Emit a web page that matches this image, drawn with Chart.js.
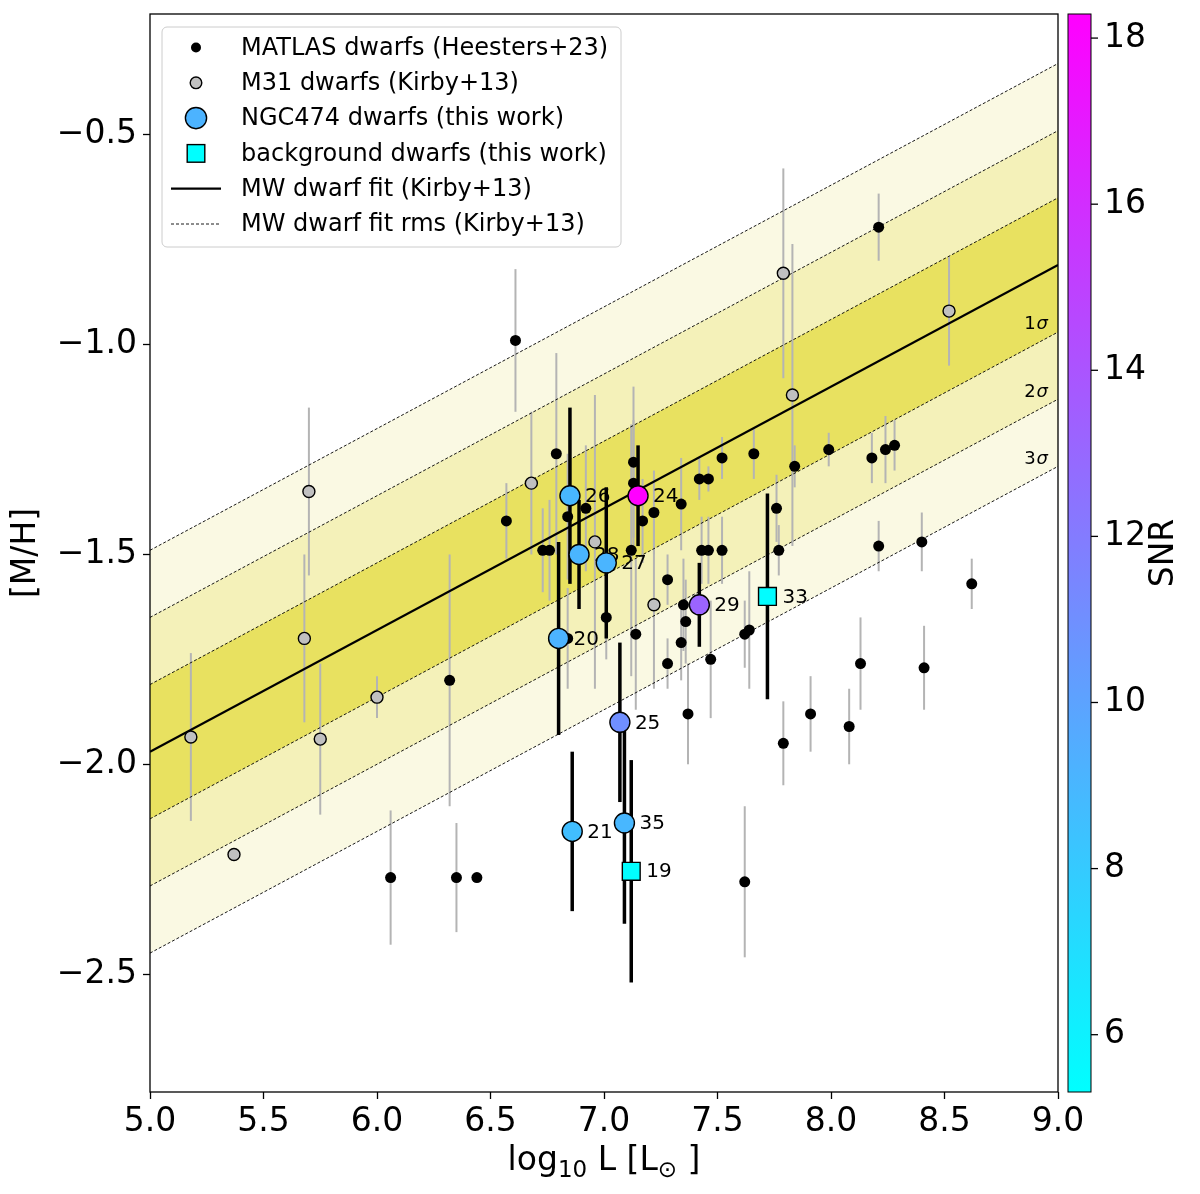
<!DOCTYPE html>
<html lang="en">
<head>
<meta charset="UTF-8">
<title>[M/H] vs luminosity</title>
<script src="https://cdn.jsdelivr.net/npm/chart.js@4.4.1/dist/chart.umd.min.js"></script>
<style>
  html, body { margin: 0; padding: 0; background: #fff; }
  #wrap { position: relative; width: 1200px; height: 1194px; }
</style>
</head>
<body>
<div id="wrap"><canvas id="chart"></canvas></div>
<script>
// MATLAS dwarfs (Heesters+23)
const matlasLogL = [6.61, 6.57, 6.32, 6.06, 6.35, 6.44, 6.73, 6.76, 6.79, 6.84, 6.92, 6.84, 7.01, 7.12,
  7.13, 7.13, 7.14, 7.17, 7.22, 7.28, 7.28, 7.34, 7.34, 7.35, 7.36, 7.37, 7.42, 7.43, 7.46, 7.46,
  7.47, 7.52, 7.52, 7.62, 7.64, 7.62, 7.66, 7.76, 7.77, 7.79, 7.84, 7.91, 7.99, 8.08, 8.13, 8.18,
  8.21, 8.21, 8.24, 8.28, 8.40, 8.41, 8.62];
const matlasMH = [-0.99, -1.42, -1.80, -2.27, -2.27, -2.27, -1.49, -1.49, -1.26, -1.41, -1.39, -1.70, -1.65, -1.49,
  -1.28, -1.33, -1.69, -1.42, -1.40, -1.56, -1.76, -1.38, -1.71, -1.62, -1.66, -1.88, -1.32, -1.49, -1.32, -1.49,
  -1.75, -1.27, -1.49, -1.69, -1.68, -2.28, -1.26, -1.39, -1.49, -1.95, -1.29, -1.88, -1.25, -1.91, -1.76, -1.27,
  -0.72, -1.48, -1.25, -1.24, -1.47, -1.77, -1.57];
const matlasErr = [0.17, 0.09, 0.30, 0.16, 0.13, 0, 0.10, 0.12, 0.24, 0.15, 0.15, 0.12, 0.10, 0.30,
  0.18, 0.15, 0.18, 0.10, 0.10, 0.06, 0.06, 0.11, 0.09, 0.11, 0.10, 0.12, 0.05, 0.08, 0.03, 0.08,
  0.14, 0.05, 0.08, 0.08, 0.14, 0.18, 0.06, 0.08, 0.06, 0.10, 0.05, 0.09, 0.04, 0.09, 0.11, 0.06,
  0.08, 0.06, 0.08, 0.06, 0.07, 0.10, 0.06];

// M31 dwarfs (Kirby+13)
const m31LogL = [5.18, 5.37, 5.68, 5.70, 5.75, 6.00, 6.68, 6.96, 7.22, 7.79, 7.83, 8.52];
const m31MH = [-1.935, -2.215, -1.70, -1.35, -1.94, -1.84, -1.33, -1.47, -1.62, -0.83, -1.12, -0.92];
const m31Err = [0.20, 0, 0.20, 0.20, 0.18, 0.05, 0.17, 0.35, 0.20, 0.25, 0.36, 0.13];

// NGC474 dwarfs (this work)
const ngcIds = ['20', '21', '24', '25', '26', '27', '28', '29', '35'];
const ngcLogL = [6.80, 6.86, 7.15, 7.07, 6.85, 7.01, 6.89, 7.42, 7.09];
const ngcMH = [-1.70, -2.16, -1.36, -1.90, -1.36, -1.52, -1.50, -1.62, -2.14];
const ngcErr = [0.23, 0.19, 0.12, 0.19, 0.21, 0.18, 0.13, 0.10, 0.24];
const ngcSNR = [9.2, 8.6, 18.3, 11.0, 9.0, 9.1, 9.1, 13.2, 9.0];

// background dwarfs (this work)
const bgIds = ['19', '33'];
const bgLogL = [7.12, 7.72];
const bgMH = [-2.255, -1.60];
const bgErr = [0.265, 0.245];
const bgSNR = [5.35, 5.4];

// MW dwarf fit (Kirby+13) and its rms
const fitLogL = [5.0, 9.0];
const fitMH = [-1.97, -0.81];
const fitRms = 0.16;
const sigmaLevels = [1, 2, 3];

const snrRange = [5.31, 18.29];
const legendLabels = ['MATLAS dwarfs (Heesters+23)', 'M31 dwarfs (Kirby+13)', 'NGC474 dwarfs (this work)',
  'background dwarfs (this work)', 'MW dwarf fit (Kirby+13)', 'MW dwarf fit rms (Kirby+13)'];

const FONT = '"DejaVu Sans", sans-serif';
const bandColors = ['rgb(232,225,96)', 'rgb(244,241,185)', 'rgb(250,249,227)'];
const errGray = '#b4b4b4';

// matplotlib "cool" colormap
function coolColor(v) {
  const t = Math.min(1, Math.max(0, (v - snrRange[0]) / (snrRange[1] - snrRange[0])));
  return 'rgb(' + Math.round(255 * t) + ',' + Math.round(255 * (1 - t)) + ',255)';
}
const fitAt = lx => fitMH[0] + (fitMH[1] - fitMH[0]) * (lx - fitLogL[0]) / (fitLogL[1] - fitLogL[0]);
const toPts = (xs, ys) => xs.map((v, i) => ({ x: v, y: ys[i] }));

const bandSets = [];
sigmaLevels.forEach((k, i) => {
  bandSets.push({
    type: 'line', label: 'rms +' + k,
    data: fitLogL.map(lx => ({ x: lx, y: fitAt(lx) + k * fitRms })),
    fill: '+1', backgroundColor: bandColors[i],
    borderColor: '#000', borderWidth: 0.9, borderDash: [3, 2], pointRadius: 0, order: 10
  });
  bandSets.push({
    type: 'line', label: 'rms -' + k,
    data: fitLogL.map(lx => ({ x: lx, y: fitAt(lx) - k * fitRms })),
    fill: false, borderColor: '#000', borderWidth: 0.9, borderDash: [3, 2], pointRadius: 0, order: 10
  });
});

// vertical error bars, behind the markers
const errorBars = {
  id: 'errorBars',
  beforeDatasetsDraw(chart) {
    const { ctx, chartArea: a, scales: { x, y } } = chart;
    ctx.save();
    ctx.beginPath(); ctx.rect(a.left, a.top, a.width, a.height); ctx.clip();
    [[m31LogL, m31MH, m31Err, errGray, 2],
     [matlasLogL, matlasMH, matlasErr, errGray, 2],
     [bgLogL, bgMH, bgErr, '#000', 3.5],
     [ngcLogL, ngcMH, ngcErr, '#000', 3.5]].forEach(([xs, ys, es, col, lw]) => {
      ctx.strokeStyle = col; ctx.lineWidth = lw;
      xs.forEach((xv, i) => {
        if (!es[i]) return;
        const px = x.getPixelForValue(xv);
        ctx.beginPath();
        ctx.moveTo(px, y.getPixelForValue(ys[i] - es[i]));
        ctx.lineTo(px, y.getPixelForValue(ys[i] + es[i]));
        ctx.stroke();
      });
    });
    ctx.restore();
  }
};

// galaxy ids, drawn before the NGC474 markers so those sit on top
const idLabels = {
  id: 'idLabels',
  afterDatasetDraw(chart, args) {
    if (chart.data.datasets[args.index].label !== legendLabels[1]) return;
    const { ctx, scales: { x, y } } = chart;
    ctx.save();
    ctx.font = '20px ' + FONT; ctx.fillStyle = '#000';
    ctx.textAlign = 'left'; ctx.textBaseline = 'middle';
    [[ngcIds, ngcLogL, ngcMH], [bgIds, bgLogL, bgMH]].forEach(([ids, xs, ys]) => {
      ids.forEach((id, i) => ctx.fillText(id, x.getPixelForValue(xs[i]) + 15, y.getPixelForValue(ys[i]) + 1));
    });
    ctx.restore();
  }
};

const extras = {
  id: 'extras',
  afterDraw(chart) {
    const { ctx, chartArea: a, scales: { x, y } } = chart;
    ctx.save();

    // sigma labels
    const lx = 8.905;
    sigmaLevels.forEach(k => {
      const py = y.getPixelForValue(fitAt(lx) - k * fitRms + 0.045);
      const right = a.right - 10;
      ctx.textBaseline = 'middle';
      ctx.font = 'italic 18px ' + FONT;
      const sw = ctx.measureText('\u03c3').width;
      ctx.textAlign = 'right';
      ctx.fillStyle = '#000';
      ctx.fillText('\u03c3', right, py);
      ctx.font = '18px ' + FONT;
      ctx.fillText(String(k), right - sw - 1, py);
    });

    // frame
    ctx.strokeStyle = '#000'; ctx.lineWidth = 1.3;
    ctx.strokeRect(a.left, a.top, a.width, a.height);

    // legend
    const lx0 = a.left + 12, ly0 = a.top + 13, lw = 459, lh = 220;
    ctx.fillStyle = 'rgba(255,255,255,0.8)';
    ctx.strokeStyle = '#cccccc'; ctx.lineWidth = 1;
    ctx.beginPath(); ctx.roundRect(lx0, ly0, lw, lh, 5); ctx.fill(); ctx.stroke();
    const mx = lx0 + 34, tx = lx0 + 79;
    legendLabels.forEach((txt, i) => {
      const ry = ly0 + 20.5 + i * 35.3;
      ctx.lineWidth = 1.4; ctx.strokeStyle = '#000';
      if (i === 0) {
        ctx.fillStyle = '#000'; ctx.beginPath(); ctx.arc(mx, ry, 5, 0, 2 * Math.PI); ctx.fill();
      } else if (i === 1) {
        ctx.fillStyle = '#c0c0c0'; ctx.beginPath(); ctx.arc(mx, ry, 5.8, 0, 2 * Math.PI); ctx.fill(); ctx.stroke();
      } else if (i === 2) {
        ctx.fillStyle = coolColor(9.2); ctx.beginPath(); ctx.arc(mx, ry, 10.6, 0, 2 * Math.PI); ctx.fill(); ctx.stroke();
      } else if (i === 3) {
        ctx.fillStyle = coolColor(snrRange[0]); ctx.fillRect(mx - 8.8, ry - 8.8, 17.6, 17.6); ctx.strokeRect(mx - 8.8, ry - 8.8, 17.6, 17.6);
      } else {
        ctx.beginPath();
        ctx.lineWidth = i === 4 ? 2.2 : 0.9;
        ctx.setLineDash(i === 4 ? [] : [3, 2]);
        ctx.moveTo(mx - 25, ry); ctx.lineTo(mx + 25, ry); ctx.stroke();
        ctx.setLineDash([]);
      }
      ctx.fillStyle = '#000'; ctx.font = '24px ' + FONT;
      ctx.textAlign = 'left'; ctx.textBaseline = 'middle';
      ctx.fillText(txt, tx, ry + 1);
    });

    // colorbar on the snr scale
    const s = chart.scales.snr;
    const cx0 = a.right + 10, cw = 23;
    const grad = ctx.createLinearGradient(0, s.bottom, 0, s.top);
    grad.addColorStop(0, coolColor(s.min)); grad.addColorStop(1, coolColor(s.max));
    ctx.fillStyle = grad; ctx.fillRect(cx0, s.top, cw, s.bottom - s.top);
    ctx.strokeStyle = '#000'; ctx.lineWidth = 1;
    ctx.strokeRect(cx0, s.top, cw, s.bottom - s.top);
    ctx.font = '33px ' + FONT; ctx.fillStyle = '#000';
    ctx.textAlign = 'left'; ctx.textBaseline = 'middle';
    ctx.lineWidth = 1.3;
    s.ticks.forEach(t => {
      const py = s.getPixelForValue(t.value);
      ctx.beginPath(); ctx.moveTo(cx0 + cw, py); ctx.lineTo(cx0 + cw + 7, py); ctx.stroke();
      ctx.fillText(String(t.value), cx0 + cw + 13, py);
    });
    ctx.save();
    ctx.translate(1164, (s.top + s.bottom) / 2);
    ctx.rotate(-Math.PI / 2);
    ctx.textAlign = 'center';
    ctx.fillText('SNR', 0, 0);
    ctx.restore();

    // axis titles
    ctx.save();
    ctx.translate(26, (a.top + a.bottom) / 2);
    ctx.rotate(-Math.PI / 2);
    ctx.textAlign = 'center'; ctx.textBaseline = 'middle';
    ctx.font = '33px ' + FONT;
    ctx.fillText('[M/H]', 0, 0);
    ctx.restore();

    const big = '33px ' + FONT, small = '23px ' + FONT;
    const parts = [['log', big, 0], ['10', small, 7], [' L [L', big, 0], ['\u2299', small, 7], [' ]', big, 0]];
    let total = 0;
    parts.forEach(p => { ctx.font = p[1]; total += ctx.measureText(p[0]).width; });
    let px = (a.left + a.right) / 2 - total / 2;
    ctx.textAlign = 'left'; ctx.textBaseline = 'alphabetic';
    parts.forEach(p => {
      ctx.font = p[1];
      ctx.fillText(p[0], px, 1170 + p[2]);
      px += ctx.measureText(p[0]).width;
    });
    ctx.restore();
  }
};

const minusFmt = v => (v < 0 ? '\u2212' : '') + Math.abs(v).toFixed(1);

new Chart(document.getElementById('chart'), {
  type: 'scatter',
  data: {
    datasets: [
      ...bandSets,
      { type: 'line', label: legendLabels[4], data: toPts(fitLogL, fitMH), borderColor: '#000', borderWidth: 2.2,
        pointRadius: 0, fill: false, order: 5 },
      { label: legendLabels[0], data: toPts(matlasLogL, matlasMH), backgroundColor: '#000', borderWidth: 0,
        pointRadius: 5.5, order: 4 },
      { label: legendLabels[1], data: toPts(m31LogL, m31MH), backgroundColor: '#c0c0c0', borderColor: '#000',
        borderWidth: 1.4, pointRadius: 6, order: 3 },
      { label: legendLabels[3], data: toPts(bgLogL, bgMH), pointStyle: 'rect', backgroundColor: bgSNR.map(coolColor),
        borderColor: '#000', borderWidth: 1.4, pointRadius: 12.6, order: 2 },
      { label: legendLabels[2], data: toPts(ngcLogL, ngcMH), backgroundColor: ngcSNR.map(coolColor),
        borderColor: '#000', borderWidth: 1.4, pointRadius: 10, order: 1 }
    ]
  },
  options: {
    responsive: true,
    maintainAspectRatio: false,
    animation: false,
    events: [],
    layout: { padding: { top: 12, right: 0, bottom: 0, left: 0 } },
    plugins: {
      legend: { display: false },
      tooltip: { enabled: false },
      filler: { drawTime: 'beforeDatasetsDraw' }
    },
    scales: {
      x: {
        type: 'linear', min: 5, max: 9,
        border: { display: false },
        grid: { drawOnChartArea: false, tickLength: 7, tickColor: '#000', tickWidth: 1.3 },
        ticks: { stepSize: 0.5, autoSkip: false, maxRotation: 0, padding: 4, color: '#000',
          font: { family: FONT, size: 33 }, callback: v => minusFmt(v) },
        afterFit: s => { s.height = 102; }
      },
      y: {
        type: 'linear', min: -2.781, max: -0.212,
        border: { display: false },
        grid: { drawOnChartArea: false, tickLength: 7, tickColor: '#000', tickWidth: 1.3 },
        ticks: { stepSize: 0.5, includeBounds: false, padding: 6, color: '#000',
          font: { family: FONT, size: 33, lineHeight: 0.6 }, callback: v => minusFmt(v) },
        afterFit: s => { s.width = 150; s.paddingTop = 0; s.paddingBottom = 0; }
      },
      snr: {
        type: 'linear', position: 'right', min: snrRange[0], max: snrRange[1],
        border: { display: false },
        grid: { display: false },
        ticks: { display: false, stepSize: 2, includeBounds: false },
        afterFit: s => { s.width = 142; s.paddingTop = 0; s.paddingBottom = 0; }
      }
    }
  },
  plugins: [errorBars, idLabels, extras]
});
</script>
</body>
</html>
